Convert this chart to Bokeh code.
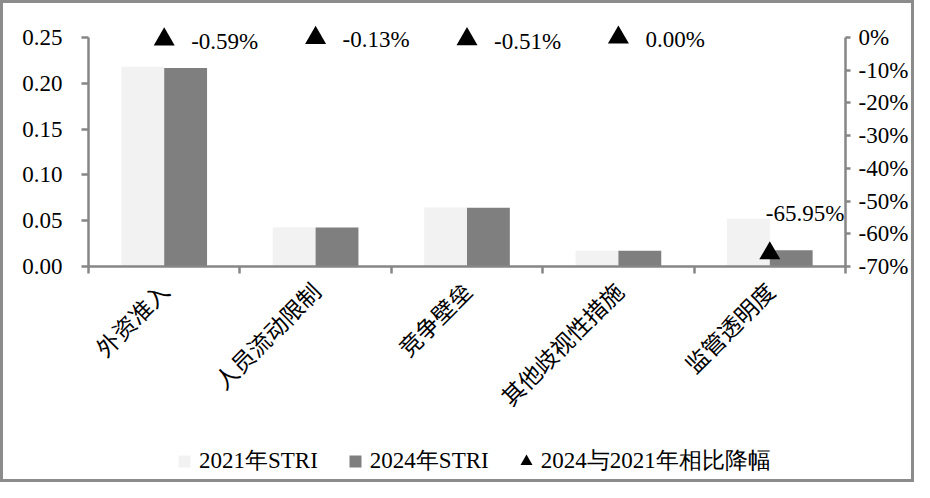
import numpy as np
from bokeh.plotting import figure
from bokeh.layouts import column
from bokeh.models import (Range1d, LinearAxis, FixedTicker, NumeralTickFormatter,
                          ColumnDataSource, Legend, LegendItem, LabelSet)
from bokeh.core.properties import value
from bokeh.embed import file_html
from bokeh.resources import INLINE

# ---------------- data ----------------
categories = ["外资准入", "人员流动限制", "竞争壁垒", "其他歧视性措施", "监管透明度"]
stri_2021 = [0.2180, 0.0428, 0.0645, 0.0172, 0.0520]
stri_2024 = [0.2167, 0.0427, 0.0642, 0.0172, 0.0177]
change_pct = [-0.0059, -0.0013, -0.0051, 0.0, -0.6595]
left_ticks = [0.0, 0.05, 0.10, 0.15, 0.20, 0.25]
right_ticks = [0.0, -0.1, -0.2, -0.3, -0.4, -0.5, -0.6, -0.7]
legend_labels = ["2021年STRI", "2024年STRI", "2024与2021年相比降幅"]

# ---------------- styles / geometry ----------------
SERIF = "Liberation Serif"
CJK = "Noto Sans CJK SC"
FS = "23px"
AXIS_GRAY = "#868686"
LIGHT = "#f2f2f2"
DARK = "#7f7f7f"

W, H1, H2 = 908, 430, 46
MB_L, MB_R, MB_T, MB_B = 85, 63, 5, 167
FRAME_H = H1 - MB_T - MB_B
TOP_PAD_PX = 29          # room above the 0.25 / 0% line for the triangle markers
y_lo, y_hi = left_ticks[0], left_ticks[-1]
p_lo, p_hi = right_ticks[-1], right_ticks[0]
frac = FRAME_H / (FRAME_H - TOP_PAD_PX)

n = len(categories)
centers = np.arange(n) + 0.5
bar_w = 0.283
labels = [f"{c * 100:.2f}%" for c in change_pct]

src = ColumnDataSource(dict(
    x21=centers - bar_w / 2, x24=centers + bar_w / 2, xc=centers,
    v21=stri_2021, v24=stri_2024, chg=change_pct, lbl=labels))

small = [i for i, c in enumerate(change_pct) if abs(c) < 0.1]
big = [i for i, c in enumerate(change_pct) if abs(c) >= 0.1]
src_small = ColumnDataSource(dict(xc=[centers[i] for i in small],
                                  chg=[change_pct[i] for i in small],
                                  lbl=[labels[i] for i in small]))
src_big = ColumnDataSource(dict(xc=[centers[i] for i in big],
                                chg=[change_pct[i] for i in big],
                                lbl=[labels[i] for i in big]))

p = figure(width=W, height=H1, x_range=Range1d(0, n),
           y_range=Range1d(y_lo, y_lo + (y_hi - y_lo) * frac),
           output_backend="svg", toolbar_location=None,
           min_border_left=MB_L, min_border_right=MB_R,
           min_border_top=MB_T, min_border_bottom=MB_B)
p.outline_line_color = None
p.xgrid.visible = False
p.ygrid.visible = False
p.background_fill_color = "white"
p.border_fill_color = "white"

p.extra_y_ranges = {"pct": Range1d(p_lo, p_lo + (p_hi - p_lo) * frac)}

# left axis
ya = p.yaxis[0]
ya.bounds = (y_lo, y_hi)
ya.ticker = FixedTicker(ticks=left_ticks)
ya.formatter = NumeralTickFormatter(format="0.00")
ya.major_tick_out = 7
ya.major_tick_in = 0
ya.minor_tick_out = 0
ya.minor_tick_in = 0
ya.axis_line_color = AXIS_GRAY
ya.axis_line_width = 2.5
ya.major_tick_line_color = AXIS_GRAY
ya.major_tick_line_width = 2.5
ya.major_label_text_font = SERIF
ya.major_label_text_font_size = FS
ya.major_label_text_color = "black"
ya.major_label_standoff = 19

# right axis
ra = LinearAxis(y_range_name="pct", ticker=FixedTicker(ticks=right_ticks),
                formatter=NumeralTickFormatter(format="0%"), bounds=(p_lo, p_hi))
ra.major_tick_out = 5
ra.major_tick_in = 0
ra.minor_tick_out = 0
ra.minor_tick_in = 0
ra.axis_line_color = AXIS_GRAY
ra.axis_line_width = 2.5
ra.major_tick_line_color = AXIS_GRAY
ra.major_tick_line_width = 2.5
ra.major_label_text_font = SERIF
ra.major_label_text_font_size = FS
ra.major_label_text_color = "black"
ra.major_label_standoff = 8
p.add_layout(ra, "right")

# x axis
xa = p.xaxis[0]
xa.ticker = FixedTicker(ticks=list(centers), minor_ticks=list(range(n + 1)))
xa.major_label_overrides = {float(c): cat for c, cat in zip(centers, categories)}
xa.major_label_orientation = np.pi / 4
xa.major_tick_out = 0
xa.major_tick_in = 0
xa.minor_tick_out = 7
xa.minor_tick_in = 0
xa.minor_tick_line_color = AXIS_GRAY
xa.minor_tick_line_width = 2.5
xa.axis_line_color = AXIS_GRAY
xa.axis_line_width = 2.5
xa.major_label_text_font = CJK
xa.major_label_text_font_size = "23px"
xa.major_label_text_color = "black"
xa.major_label_standoff = 13

# bars
r21 = p.vbar(x="x21", width=bar_w, top="v21", bottom=0, source=src,
             fill_color=LIGHT, line_color=None)
r24 = p.vbar(x="x24", width=bar_w, top="v24", bottom=0, source=src,
             fill_color=DARK, line_color=None)

# triangles (secondary axis)
rt = p.scatter(x="xc", y="chg", y_range_name="pct", marker="triangle", size=21,
               fill_color="black", line_color=None, source=src)

ls1 = LabelSet(x="xc", y="chg", text="lbl", y_range_name="pct", source=src_small,
               x_offset=27, y_offset=-2, text_font=value(SERIF), text_font_size=value(FS),
               text_color="black", text_baseline="middle", text_align="left")
ls2 = LabelSet(x="xc", y="chg", text="lbl", y_range_name="pct", source=src_big,
               x_offset=-4, y_offset=40, text_font=value(SERIF), text_font_size=value(FS),
               text_color="black", text_baseline="middle", text_align="left")
p.add_layout(ls1)
p.add_layout(ls2)

# ---------------- legend strip ----------------
# The strip's y-range lies above all data values, so the series drawn here only
# feed the legend swatches and stay outside the visible strip.
p2 = figure(width=W, height=H2, x_range=Range1d(0, n), y_range=Range1d(1, 2),
            x_axis_type=None, y_axis_type=None, output_backend="svg",
            toolbar_location=None, min_border=0)
p2.outline_line_color = None
p2.xgrid.visible = False
p2.ygrid.visible = False
sw21 = p2.scatter(x="x21", y="v21", source=src, marker="square",
                  fill_color=LIGHT, line_color=None)
sw24 = p2.scatter(x="x24", y="v24", source=src, marker="square",
                  fill_color=DARK, line_color=None)
swt = p2.scatter(x="xc", y="chg", source=src, marker="triangle",
                 fill_color="black", line_color=None)

leg = Legend(items=[LegendItem(label=legend_labels[0], renderers=[sw21]),
                    LegendItem(label=legend_labels[1], renderers=[sw24]),
                    LegendItem(label=legend_labels[2], renderers=[swt])],
             location=(81, 3), orientation="horizontal",
             glyph_width=30, glyph_height=30, label_standoff=-5, spacing=22,
             padding=0, margin=0, border_line_color=None, background_fill_alpha=0,
             label_text_font=SERIF, label_text_font_size=FS, label_text_color="black")
p2.add_layout(leg)

layout = column(p, p2, spacing=0, styles={"border": "3px solid #8c8c8c"})
open("out.html", "w").write(file_html(layout, INLINE))
